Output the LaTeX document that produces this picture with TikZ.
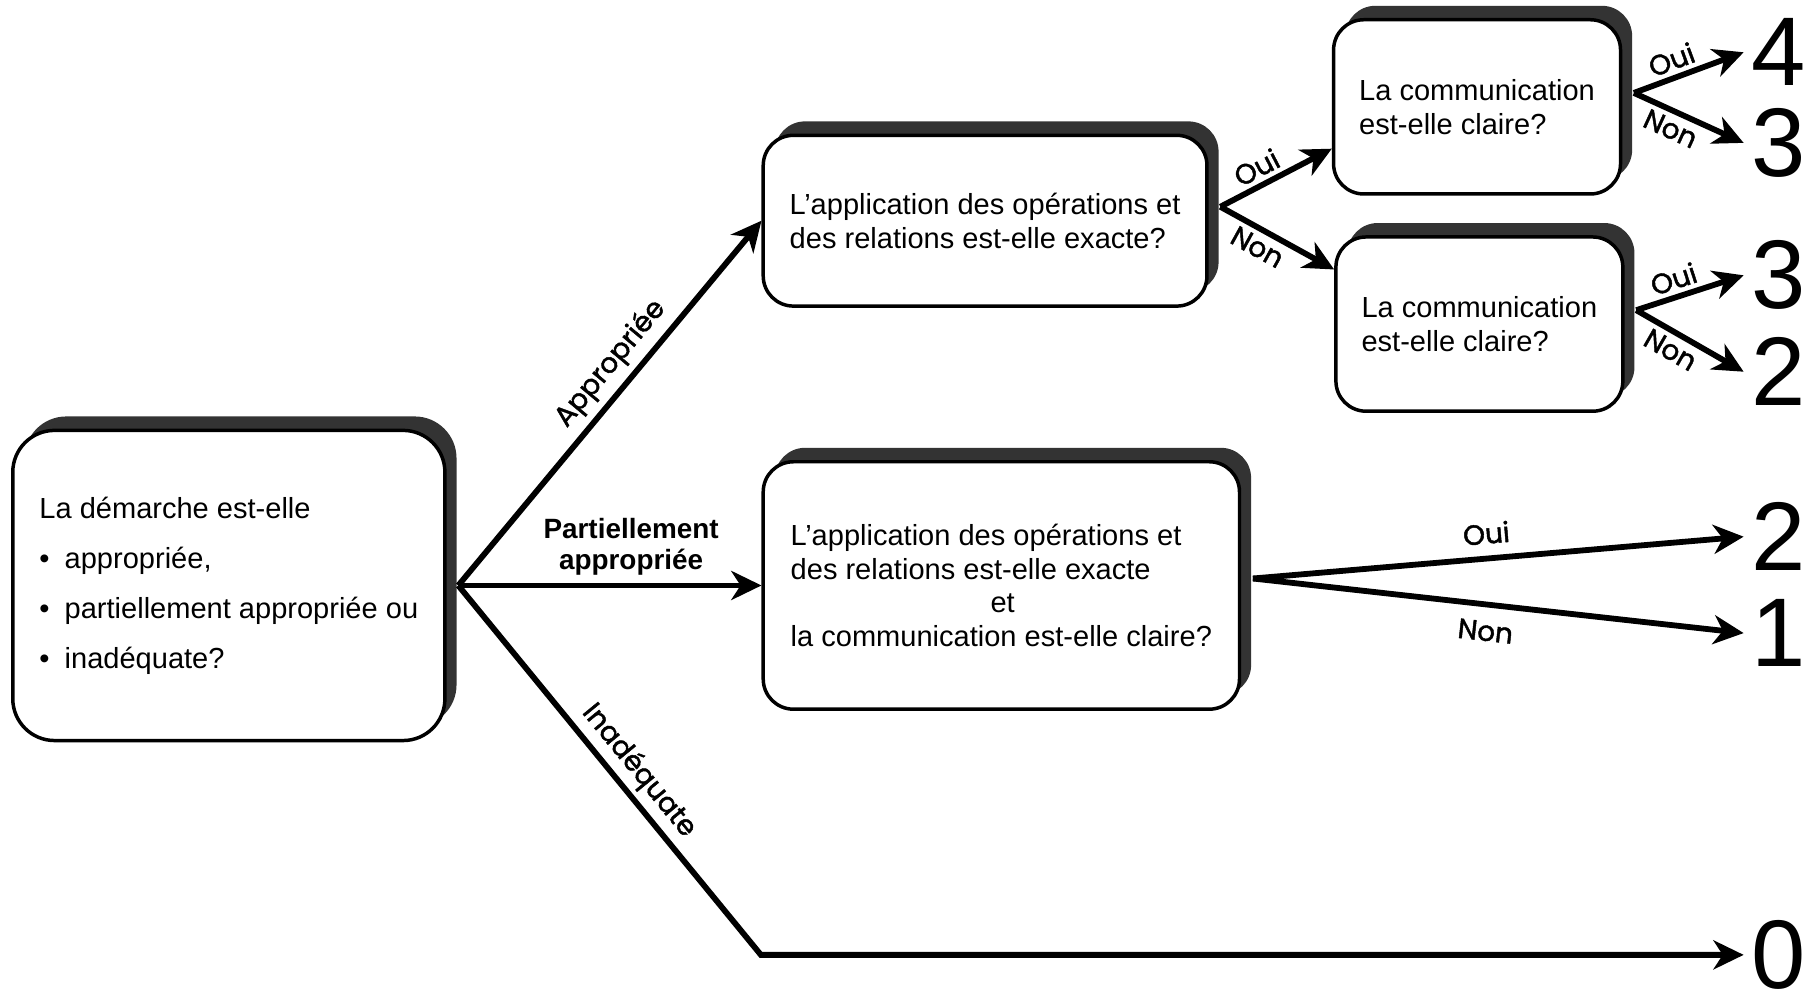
\documentclass[tikz,border=0pt]{standalone}
\usepackage{fontspec}
\usepackage{tikz}
\setmainfont{Liberation Sans}
\newfontfamily\lblfont[FakeBold=1.6]{Poppins}
\definecolor{shadowgray}{RGB}{51, 51, 51}
\usetikzlibrary{arrows.meta, shadows}
\newcommand{\puce}{•\hspace{6.5pt}}

\begin{document}
\begin{tikzpicture}[
        x=0.5pt, y=-0.5pt,
        every node/.style={font=\fontsize{12.5}{14.5}\selectfont},
        box/.style={rectangle, rounded corners=13pt, line width=1.5pt, draw=black, fill=white, inner sep=0pt, align=left, drop shadow={shadow xshift=5pt, shadow yshift=6pt, fill=shadowgray, opacity=1}},
        arrow/.style={line width=2.5pt, -{Stealth[length=13pt, width=12.5pt, inset=4pt]}},
        lbl/.style={font=\lblfont\fontsize{12}{14}\selectfont, sloped, inner sep=2pt},
        num/.style={font=\fontsize{42}{42}\selectfont, inner xsep=3pt, inner ysep=0pt, anchor=west}
    ]
        \useasboundingbox (0,0) rectangle (1565,854);

        % First question
        \node[box, rounded corners=18pt, minimum width=186pt, minimum height=133.5pt, font=\fontsize{12.5}{21.5}\selectfont] (demarche) at (197,504) {La démarche est-elle\\\puce appropriée,\\\puce partiellement appropriée ou\\\puce inadéquate?};

        % Second level
        \node[box, minimum width=191pt, minimum height=73.5pt] (exacte) at (848,190) {L’application des opérations et\\des relations est-elle exacte?};
        \node[box, minimum width=205pt, minimum height=106.5pt] (exactclaire) at (862,504) {L’application des opérations et\\des relations est-elle exacte\\\hspace*{86pt}et\\la communication est-elle claire?};

        % Third level
        \node[box, minimum width=123.5pt, minimum height=75pt] (claire1) at (1271.5,92) {La communication\\est-elle claire?};
        \node[box, minimum width=123.5pt, minimum height=75pt] (claire2) at (1273.5,279) {La communication\\est-elle claire?};

        % Scores
        \node[num] (n4) at (1501,45) {4};
        \node[num] (n3a) at (1501,123) {3};
        \node[num] (n3b) at (1501,237) {3};
        \node[num] (n2a) at (1501,320) {2};
        \node[num] (n2b) at (1501,462) {2};
        \node[num] (n1) at (1501,545) {1};
        \node[num] (n0) at (1501,822) {0};

        % Branch points
        \coordinate (fork) at ([xshift=5pt]demarche.east);
        \coordinate (bend) at (655,822);
        \coordinate (exacte-out) at ([xshift=5pt, yshift=6pt]exacte.east);
        \coordinate (exactclaire-out) at ([xshift=5pt, yshift=3pt]exactclaire.east);
        \coordinate (claire1-out) at ([xshift=5pt, yshift=6pt]claire1.east);
        \coordinate (claire2-out) at ([xshift=5pt, yshift=6pt]claire2.east);

        % Arrows
        \draw[arrow] (fork) -- node[lbl, above=1pt, pos=0.565] {Appropriée} (exacte.west);
        \draw[arrow] (fork) -- node[above, pos=0.57, font=\bfseries\fontsize{12}{13}\selectfont, align=center] {Partiellement\\appropriée} (exactclaire.west);
        \draw[arrow] (fork) -- node[lbl, above, pos=0.54] {Inadéquate} (bend) -- (n0.west);

        \draw[arrow] (exacte-out) -- node[lbl, above, pos=0.4] {Oui} ([yshift=-18pt]claire1.west);
        \draw[arrow] (exacte-out) -- node[lbl, below, pos=0.4] {Non} ([yshift=23.5pt]claire2.west);

        \draw[arrow] (claire1-out) -- node[lbl, above, pos=0.4] {Oui} (n4.west);
        \draw[arrow] (claire1-out) -- node[lbl, below, pos=0.4] {Non} (n3a.west);
        \draw[arrow] (claire2-out) -- node[lbl, above, pos=0.4] {Oui} (n3b.west);
        \draw[arrow] (claire2-out) -- node[lbl, below, pos=0.4] {Non} (n2a.west);

        \draw[arrow] (exactclaire-out) -- node[lbl, above=3pt, pos=0.48] {Oui} (n2b.west);
        \draw[arrow] (exactclaire-out) -- node[lbl, below=4pt, pos=0.48] {Non} (n1.west);

    \end{tikzpicture}
\end{document}
